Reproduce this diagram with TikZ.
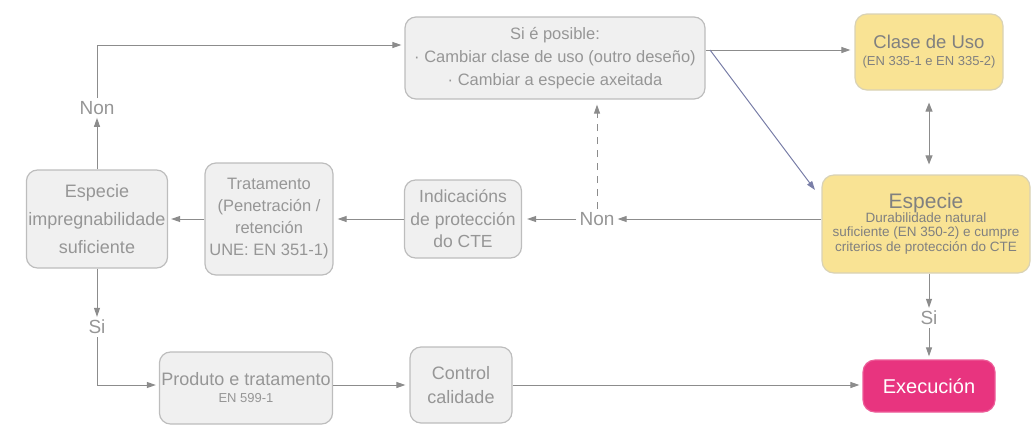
\documentclass[tikz,border=0pt]{standalone}
\usepackage{fontspec}
\setmainfont{Liberation Sans}
\usetikzlibrary{arrows.meta}
\definecolor{lnc}{HTML}{8C8C8C}
\definecolor{txc}{HTML}{969696}
\definecolor{boxfill}{HTML}{F0F0F0}
\definecolor{boxdraw}{HTML}{BDBDBD}
\definecolor{yelfill}{HTML}{F9E394}
\definecolor{yeldraw}{HTML}{D9D2B5}
\definecolor{magfill}{HTML}{E8347F}
\definecolor{bluel}{HTML}{7A7FA8}
\tikzset{
  gbox/.style={draw=boxdraw, line width=1.2pt, fill=boxfill, rounded corners=11pt, align=center, text=txc, inner sep=2pt},
  ybox/.style={draw=yeldraw, line width=1.2pt, fill=yelfill, rounded corners=12pt, align=center, text=txc!85!black, inner sep=2pt},
  mbox/.style={draw=magfill!80!white, line width=1.2pt, fill=magfill, rounded corners=12pt, align=center, text=white, inner sep=2pt},
  lab/.style={text=txc, font=\fontsize{19}{22}\selectfont, inner sep=3pt},
  conn/.style={draw=lnc, line width=1pt, -{Triangle[length=9pt,width=6pt]}},
}
\newcommand{\fsz}[2]{\fontsize{#1}{#2}\selectfont}
\begin{document}
\begin{tikzpicture}[x=1pt,y=-1pt]
\useasboundingbox (0,0) rectangle (1032,429);
% nodes
\node[gbox, minimum width=300pt, minimum height=82pt, font=\fsz{16.5}{23}] (top) at (555,58)
  {Si é posible:\\ · Cambiar clase de uso (outro deseño)\\ · Cambiar a especie axeitada};
\node[ybox, minimum width=148pt, minimum height=76pt, font=\fsz{13}{15}] (clase) at (929,52)
  {\fsz{18.5}{21}Clase de Uso\\[2pt](EN 335-1 e EN 335-2)};
\node[ybox, minimum width=208pt, minimum height=98pt, font=\fsz{13.5}{14.5}] (esp) at (926,224)
  {\fsz{21}{24}Especie\\[-1pt]Durabilidade natural\\ suficiente (EN 350-2) e cumpre\\ criterios de protección do CTE};
\node[gbox, minimum width=141pt, minimum height=98pt, font=\fsz{18}{28}] (lesp) at (97,219)
  {Especie\\ impregnabilidade\\ suficiente};
\node[gbox, minimum width=128pt, minimum height=112pt, font=\fsz{16.5}{22}] (trat) at (269,219)
  {Tratamento\\ (Penetración /\\ retención\\ UNE: EN 351-1)};
\node[gbox, minimum width=117pt, minimum height=78pt, font=\fsz{17.5}{22.5}] (ind) at (463,219)
  {Indicacións\\ de protección\\ do CTE};
\node[gbox, minimum width=167pt, minimum height=72pt, font=\fsz{13}{15}] (prod) at (246,388)
  {\fsz{18}{24}Produto e tratamento\\[2pt] EN 599-1};
\node[gbox, minimum width=102pt, minimum height=76pt, font=\fsz{18}{24}] (ctrl) at (461,385)
  {Control\\ calidade};
\node[mbox, minimum width=132pt, minimum height=52pt, font=\fsz{20}{22}] (exec) at (929,386)
  {Execución};
\node[lab] (non1) at (97,108) {Non};
\node[lab] (nonm) at (597,219) {Non};
\node[lab] (si1) at (97,327) {Si};
\node[lab] (si2) at (929,318) {Si};
\coordinate (c1) at (97,45);
\coordinate (c2) at (97,385);
\coordinate (c3) at (710,50);
\coordinate (c4) at (815,190);
\coordinate (cv) at (929,0);
% connectors
\draw[conn] (lesp.north) -- (non1.south);
\draw[conn] (non1.north) |- ([xshift=-3pt]top.west |- c1);
\draw[conn] (lesp.south) -- (si1.north);
\draw[conn] (si1.south) |- ([xshift=-3pt]prod.west |- c2);
\draw[conn] (prod.east |- c2) -- ([xshift=-4pt]ctrl.west |- c2);
\draw[conn] (ctrl.east |- c2) -- ([xshift=-3pt]exec.west |- c2);
\draw[conn] (esp.west |- nonm) -- (nonm.east);
\draw[conn, shorten >=5pt] (nonm.west) -- (ind.east);
\draw[conn, shorten >=4pt] (ind.west) -- (trat.east);
\draw[conn, shorten >=3pt] (trat.west) -- (lesp.east);
\draw[conn, dash pattern=on 7pt off 6pt, shorten >=5pt] (nonm.north) -- (nonm.north |- top.south);
\draw[conn, shorten >=4pt] (top.east |- c3) -- (clase.west |- c3);
\draw[conn, draw=bluel] (c3) -- (c4);
\draw[draw=lnc, line width=1pt, {Triangle[length=9pt,width=7pt]}-{Triangle[length=9pt,width=7pt]}, shorten <=12pt, shorten >=10pt] (clase.south -| cv) -- (esp.north -| cv);
\draw[conn] (esp.south -| cv) -- (si2.north);
\draw[conn, shorten >=3pt] (si2.south) -- (exec.north);
\end{tikzpicture}
\end{document}
